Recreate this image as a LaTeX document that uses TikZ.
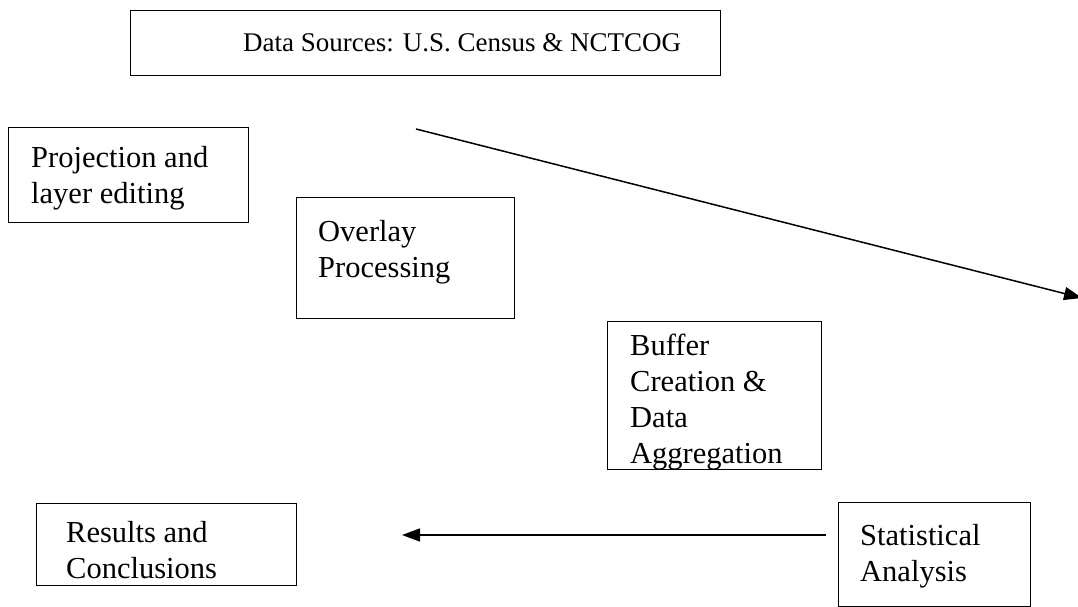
\documentclass[tikz,border=0pt]{standalone}
\usepackage{fontspec}
\setmainfont{Liberation Serif}
\usetikzlibrary{arrows.meta}
\begin{document}
\begin{tikzpicture}[x=1pt,y=-1pt,
  box/.style={draw=black, line width=1.4pt, rectangle, inner sep=0pt, anchor=north west},
  txt/.style={anchor=north west, inner sep=0pt, align=left, font=\fontsize{30.5}{36}\selectfont},
  arr/.style={line width=1.5pt, -{Triangle[length=18pt,width=13pt]}}]
\useasboundingbox (0,0) rectangle (1078,607);
\fill[white] (0,0) rectangle (1078,607);
% boxes
\node[box, minimum width=590, minimum height=65] (src) at (130,10) {};
\node[txt, font=\fontsize{27}{32}\selectfont] (srct) at (243,33) {Data Sources: U.S. Census \& NCTCOG};
\node[box, minimum width=240, minimum height=95] (proj) at (8,127) {};
\node[txt] (projt) at (31,146) {Projection and\\layer editing};
\node[box, minimum width=218, minimum height=121] (over) at (296,197) {};
\node[txt] (overt) at (318,220) {Overlay\\Processing};
\node[box, minimum width=214, minimum height=148] (buf) at (607,321) {};
\node[txt] (buft) at (630,334) {Buffer\\Creation \&\\Data\\Aggregation};
\node[box, minimum width=260, minimum height=82] (res) at (36,503) {};
\node[txt] (rest) at (66,521) {Results and\\Conclusions};
\node[box, minimum width=192, minimum height=104] (stat) at (838,502) {};
\node[txt] (statt) at (860,524) {Statistical\\Analysis};
% connectors
\coordinate (a1) at (416,129);
\coordinate (a2) at (1082,298);
\draw[arr] (a1) -- (a2);
\coordinate (h1) at (826,535);
\coordinate (h2) at (402,535);
\draw[arr] (h1) -- (h2);
\end{tikzpicture}
\end{document}
